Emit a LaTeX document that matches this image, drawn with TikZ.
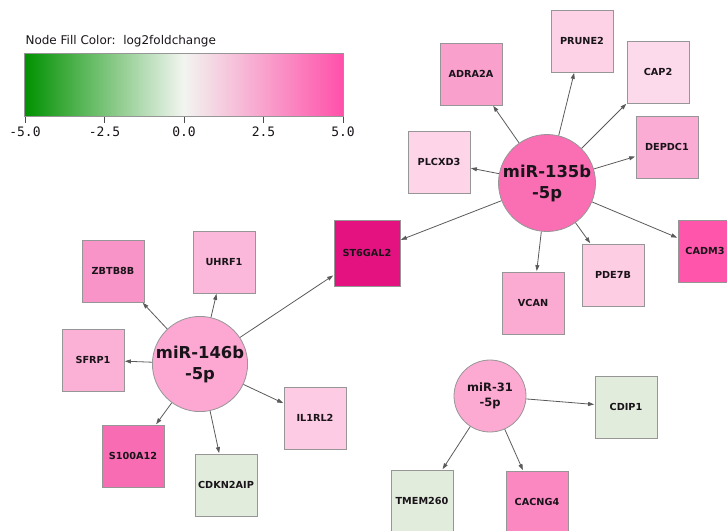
\documentclass[tikz,border=0pt]{standalone}
\usepackage{fontspec}
\setmainfont{DejaVu Sans}
\newfontfamily\monofnt{DejaVu Sans Mono}
\usetikzlibrary{arrows.meta}
\definecolor{boxgray}{RGB}{150,150,150}
\definecolor{edgegray}{RGB}{90,90,90}
\definecolor{txt}{RGB}{25,20,25}
\definecolor{lgreen}{RGB}{0,145,0}
\definecolor{lwhite}{RGB}{242,245,240}
\definecolor{lpink}{RGB}{255,80,170}
\definecolor{cM135}{RGB}{250,110,180}
\definecolor{cM146}{RGB}{252,168,210}
\definecolor{cM31}{RGB}{252,170,210}
\definecolor{cADRA}{RGB}{249,160,205}
\definecolor{cPRUNE}{RGB}{253,210,230}
\definecolor{cCAP}{RGB}{253,218,235}
\definecolor{cDEPDC}{RGB}{251,172,212}
\definecolor{cPLCXD}{RGB}{253,212,232}
\definecolor{cST}{RGB}{228,18,128}
\definecolor{cVCAN}{RGB}{251,170,210}
\definecolor{cPDE}{RGB}{253,205,228}
\definecolor{cCADM}{RGB}{255,85,170}
\definecolor{cZBTB}{RGB}{249,148,200}
\definecolor{cUHRF}{RGB}{252,184,218}
\definecolor{cSFRP}{RGB}{251,176,213}
\definecolor{cIL}{RGB}{253,203,228}
\definecolor{cS100}{RGB}{248,108,180}
\definecolor{cGreen}{RGB}{226,236,220}
\definecolor{cCACNG}{RGB}{252,136,194}
\begin{document}
\begin{tikzpicture}[x=1pt,y=-1pt,
  gbox/.style={draw=boxgray, line width=0.8pt, minimum width=62pt, minimum height=62pt, inner sep=0pt, text=txt, font=\fontsize{9.7}{11}\selectfont\bfseries},
  mirc/.style={circle, draw=boxgray, line width=0.8pt, inner sep=0pt, text=txt, align=center},
  regarrow/.style={draw=edgegray, line width=0.8pt, -{Triangle[length=6pt,width=4pt]}, shorten >=0.5pt},
  tick/.style={draw=black!70, line width=0.8pt},
  ticklab/.style={font=\monofnt\fontsize{13}{14}\selectfont, text=txt}]
\useasboundingbox (0,0) rectangle (727,530);
% legend
\node[anchor=west, text=txt, font=\fontsize{12}{14}\selectfont] (title) at (22,41) {Node Fill Color:\ \ log2foldchange};
\shade[left color=lgreen, right color=lpink, middle color=lwhite] (24,53) rectangle (343,116);
\draw[boxgray, line width=0.8pt] (24,53) rectangle (343,116);
\foreach \x/\l in {25/-5.0, 104.5/-2.5, 184/0.0, 263.5/2.5, 343/5.0}{
  \draw[tick] (\x,117) -- (\x,123);
  \node[ticklab] at (\x,132) {\l};
}
% miR-135b-5p
\node[mirc, fill=cM135, minimum size=97pt, font=\fontsize{16.4}{21}\selectfont\bfseries] (m135) at (547,183) {miR-135b\\-5p};
\node[gbox, fill=cADRA] (adra) at (471,74) {ADRA2A};
\node[gbox, fill=cPRUNE] (prune) at (582,41) {PRUNE2};
\node[gbox, fill=cCAP] (cap) at (658,72) {CAP2};
\node[gbox, fill=cDEPDC] (depdc) at (667,147) {DEPDC1};
\node[gbox, fill=cPLCXD] (plcxd) at (439,162) {PLCXD3};
\node[gbox, fill=cST, minimum width=66pt, minimum height=66pt] (st) at (367,253) {ST6GAL2};
\node[gbox, fill=cVCAN] (vcan) at (533,303) {VCAN};
\node[gbox, fill=cPDE] (pde) at (613,275) {PDE7B};
\node[gbox, fill=cCADM] (cadm) at (709,251) {CADM3\hspace*{8pt}};
% miR-146b-5p
\node[mirc, fill=cM146, minimum size=90pt, font=\fontsize{16.4}{21}\selectfont\bfseries] (m146) at (200,364) {miR-146b\\-5p};
\node[gbox, fill=cZBTB] (zbtb) at (113,271) {ZBTB8B};
\node[gbox, fill=cUHRF] (uhrf) at (224,262) {UHRF1};
\node[gbox, fill=cSFRP] (sfrp) at (93,360) {SFRP1};
\node[gbox, fill=cIL] (il) at (315,418) {IL1RL2};
\node[gbox, fill=cS100] (s100) at (133,456) {S100A12};
\node[gbox, fill=cGreen] (cdkn) at (226,485) {CDKN2AIP};
% miR-31-5p
\node[mirc, fill=cM31, minimum size=72pt, font=\fontsize{11.5}{15}\selectfont\bfseries] (m31) at (490,396) {miR-31\\-5p};
\node[gbox, fill=cGreen] (cdip) at (626,407) {CDIP1};
\node[gbox, fill=cGreen] (tmem) at (422,501) {TMEM260};
\node[gbox, fill=cCACNG] (cacng) at (537,502) {CACNG4};
% edges
\foreach \t in {adra,prune,cap,depdc,plcxd,st,vcan,pde,cadm}{\draw[regarrow] (m135) -- (\t);}
\foreach \t in {zbtb,uhrf,sfrp,il,s100,cdkn,st}{\draw[regarrow] (m146) -- (\t);}
\foreach \t in {cdip,tmem,cacng}{\draw[regarrow] (m31) -- (\t);}
\end{tikzpicture}
\end{document}
